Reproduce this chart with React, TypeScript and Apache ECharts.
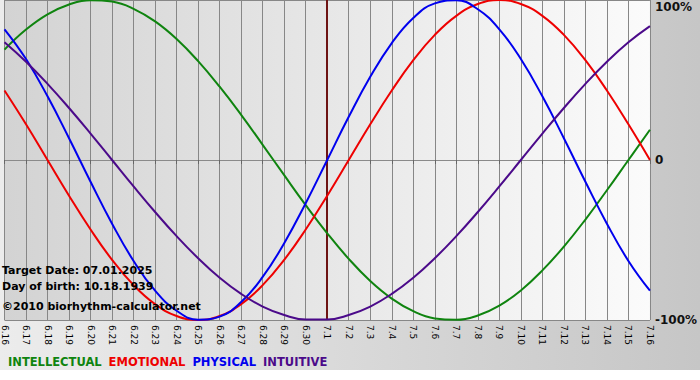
import React, { useEffect, useRef } from "react";
import * as echarts from "echarts";

const categories = [
  "6.16", "6.17", "6.18", "6.19", "6.20", "6.21", "6.22", "6.23", "6.24", "6.25",
  "6.26", "6.27", "6.28", "6.29", "6.30", "7.1", "7.2", "7.3", "7.4", "7.5",
  "7.6", "7.7", "7.8", "7.9", "7.10", "7.11", "7.12", "7.13", "7.14", "7.15", "7.16",
];

const intellectual = [
  0.69, 0.815, 0.91, 0.972, 0.999, 0.99, 0.945, 0.866, 0.756, 0.618,
  0.458, 0.282, 0.095, -0.095, -0.282, -0.458, -0.618, -0.756, -0.866, -0.945,
  -0.99, -0.999, -0.972, -0.91, -0.815, -0.69, -0.541, -0.372, -0.189, 0, 0.189,
];

const emotional = [
  0.434, 0.223, 0, -0.223, -0.434, -0.624, -0.782, -0.901, -0.975, -1,
  -0.975, -0.901, -0.782, -0.624, -0.434, -0.223, 0, 0.223, 0.434, 0.624,
  0.782, 0.901, 0.975, 1, 0.975, 0.901, 0.782, 0.624, 0.434, 0.223, 0,
];

const physical = [
  0.817, 0.631, 0.398, 0.136, -0.136, -0.398, -0.631, -0.817, -0.942, -0.998,
  -0.979, -0.888, -0.731, -0.52, -0.27, 0, 0.27, 0.52, 0.731, 0.888,
  0.979, 0.998, 0.942, 0.817, 0.631, 0.398, 0.136, -0.136, -0.398, -0.631, -0.817,
];

const intuitive = [
  0.736, 0.614, 0.476, 0.325, 0.165, 0, -0.165, -0.325, -0.476, -0.614,
  -0.736, -0.837, -0.916, -0.969, -0.997, -0.997, -0.969, -0.916, -0.837, -0.736,
  -0.614, -0.476, -0.325, -0.165, 0, 0.165, 0.325, 0.476, 0.614, 0.736, 0.837,
];

const targetDay = "7.1";
const infoLines = ["Target Date: 07.01.2025", "Day of birth: 10.18.1939", "©2010 biorhythm-calculator.net"];

const COLORS = {
  INTELLECTUAL: "#0f840f",
  EMOTIONAL: "#ee0000",
  PHYSICAL: "#0000ee",
  INTUITIVE: "#4b0a8a",
};

const FONT = "Verdana, 'DejaVu Sans', sans-serif";

export default function App() {
  const ref = useRef<HTMLDivElement>(null);

  useEffect(() => {
    if (!ref.current) return;
    const chart = echarts.init(ref.current, undefined, { renderer: "svg" });

    const mkSeries = (name: keyof typeof COLORS, data: number[], extra: any = {}) => ({
      name,
      type: "line",
      data,
      smooth: 0.45,
      symbol: "none",
      lineStyle: { color: COLORS[name], width: 2 },
      itemStyle: { color: COLORS[name] },
      z: 3,
      ...extra,
    });

    chart.setOption({
      animation: false,
      backgroundColor: "transparent",
      grid: {
        left: 0,
        right: 49,
        top: 0,
        bottom: 60,
        show: true,
        borderWidth: 0,
        backgroundColor: new echarts.graphic.LinearGradient(0, 0, 1, 0, [
          { offset: 0, color: "#d3d3d3" },
          { offset: 1, color: "#fbfbfb" },
        ]),
      },
      legend: {
        left: -2,
        top: 351,
        icon: "rect",
        itemWidth: 0,
        itemHeight: 0,
        itemGap: 2,
        selectedMode: false,
        textStyle: { fontFamily: FONT, fontWeight: "bold", fontSize: 11.5 },
        data: (Object.keys(COLORS) as (keyof typeof COLORS)[]).map((n) => ({
          name: n,
          textStyle: { color: COLORS[n] },
        })),
      },
      xAxis: {
        type: "category",
        data: categories,
        boundaryGap: false,
        axisLine: { show: true, lineStyle: { color: "#8a8a8a", width: 1 } },
        axisTick: { show: true, length: 4, interval: 0, lineStyle: { color: "#666" } },
        axisLabel: {
          interval: 0,
          rotate: -90,
          margin: 5,
          fontFamily: FONT,
          fontSize: 9,
          color: "#000",
        },
        splitLine: { show: true, interval: 0, lineStyle: { color: "#878787", width: 1 } },
      },
      yAxis: {
        type: "value",
        position: "right",
        min: -1,
        max: 1,
        interval: 1,
        axisLine: { show: false },
        axisTick: { show: false },
        axisLabel: {
          margin: 5,
          fontFamily: FONT,
          fontWeight: "bold",
          fontSize: 12,
          color: "#111",
          formatter: (v: number) => (v === 1 ? "{top|100%}" : v === 0 ? "0" : "-100%"),
          rich: {
            top: { fontFamily: FONT, fontWeight: "bold", fontSize: 12, color: "#111", padding: [13, 0, 0, 0] },
          },
        },
        splitLine: { show: true, lineStyle: { color: "#878787", width: 1 } },
      },
      graphic: infoLines.map((t, i) => ({
        type: "text",
        left: 2,
        top: [265, 281, 301][i],
        z: 10,
        style: {
          text: t,
          fill: "#000",
          font: `bold 11px ${FONT}`,
        },
      })),
      series: [
        mkSeries("INTELLECTUAL", intellectual),
        mkSeries("EMOTIONAL", emotional),
        mkSeries("PHYSICAL", physical, {
          markLine: {
            silent: true,
            symbol: "none",
            label: { show: false },
            lineStyle: { color: "#6e1414", width: 2, type: "solid" },
            data: [{ xAxis: targetDay }],
            z: 2,
          },
        }),
        mkSeries("INTUITIVE", intuitive),
      ],
    });

    return () => chart.dispose();
  }, []);

  return (
    <div
      style={{
        position: "fixed",
        left: 0,
        top: 0,
        width: 700,
        height: 380,
        background:
          "linear-gradient(to right, #ececec, #c6c6c6) 0 0 / 700px 370px no-repeat, #ffffff",
      }}
    >
      <div ref={ref} style={{ width: 700, height: 380 }} />
    </div>
  );
}
